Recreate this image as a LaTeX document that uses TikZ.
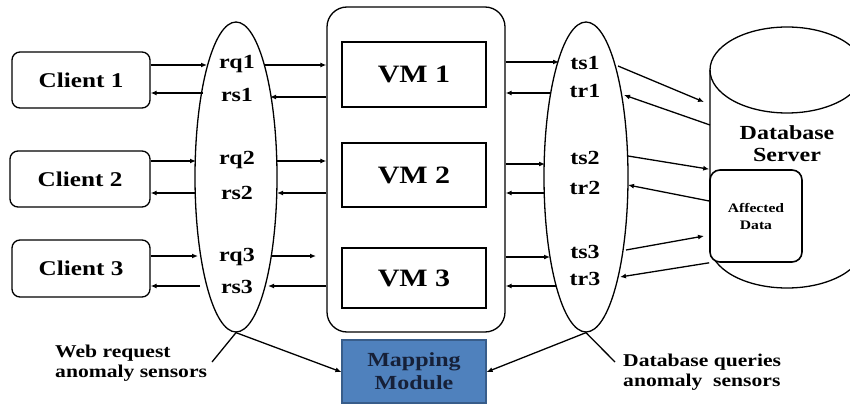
\documentclass[tikz,border=0pt]{standalone}
\usepackage{fontspec}
\setmainfont{Liberation Serif}[FakeStretch=1.2]
\usetikzlibrary{shapes.geometric,arrows.meta}
\definecolor{mapfill}{RGB}{79,129,189}
\definecolor{mapdraw}{RGB}{56,93,138}
\definecolor{maptext}{RGB}{22,32,56}
\tikzset{
  client/.style={draw, rounded corners=8pt, line width=1.3pt, minimum width=138pt, minimum height=56pt, inner sep=0pt, font=\fontsize{21}{24}\selectfont\bfseries},
  vmbox/.style={draw, line width=1.6pt, minimum width=144pt, inner sep=0pt, font=\fontsize{25}{28}\selectfont\bfseries},
  sensor/.style={draw, ellipse, line width=1.3pt, minimum width=82pt, minimum height=310pt, inner sep=0pt},
  lbl/.style={font=\fontsize{20}{22}\selectfont\bfseries, inner sep=0pt},
  note/.style={font=\fontsize{18}{20}\selectfont\bfseries, inner sep=0pt, align=left, anchor=west},
  arr/.style={-{Latex[length=6pt,width=5pt]}, line width=1.3pt},
  ln/.style={line width=1.3pt},
}
\begin{document}
\begin{tikzpicture}[x=1pt,y=-1pt]
\useasboundingbox (0,0) rectangle (850,406);
\clip (0,0) rectangle (850,406);

% clients
\node[client] (c1) at (81,80) {Client 1};
\node[client, minimum width=140pt] (c2) at (80,179) {Client 2};
\node[client, minimum height=57pt] (c3) at (81,268.5) {Client 3};

% sensors
\node[sensor] (lsens) at (236,177) {};
\node[sensor, minimum width=84pt] (rsens) at (586,177) {};

\node[lbl] (rq1) at (237,64) {rq1};
\node[lbl] (rs1) at (237,95) {rs1};
\node[lbl] (rq2) at (237,160) {rq2};
\node[lbl] (rs2) at (237,193) {rs2};
\node[lbl] (rq3) at (237,257) {rq3};
\node[lbl] (rs3) at (237,287) {rs3};

\node[lbl] (ts1) at (585,63) {ts1};
\node[lbl] (tr1) at (585,91) {tr1};
\node[lbl] (ts2) at (585,158) {ts2};
\node[lbl] (tr2) at (585,188) {tr2};
\node[lbl] (ts3) at (585,252) {ts3};
\node[lbl] (tr3) at (585,279) {tr3};

% host
\node[draw, line width=1.3pt, rounded corners=20pt, minimum width=178pt, minimum height=325pt, inner sep=0pt] (host) at (416,169.5) {};
\node[vmbox, minimum height=65pt] (vm1) at (414,74.5) {VM 1};
\node[vmbox, minimum height=64pt] (vm2) at (414,175) {VM 2};
\node[vmbox, minimum height=60pt] (vm3) at (414,278) {VM 3};

% mapping
\node[draw=mapdraw, fill=mapfill, line width=1.2pt, minimum width=144pt, minimum height=63pt, inner sep=0pt, align=center, text=maptext, font=\fontsize{20}{23}\selectfont\bfseries] (map) at (414,371.5) {Mapping\\Module};

% database cylinder
\draw[ln] (787,70) ellipse [x radius=77pt, y radius=43pt];
\draw[ln] (710,70) -- (710,245) arc[start angle=180, end angle=360, x radius=77pt, y radius=43pt] -- (864,70);
\node[align=center, inner sep=0pt, font=\fontsize{20}{22}\selectfont\bfseries] (db) at (787,144) {Database\\Server};
\node[draw, fill=white, line width=1.6pt, rounded corners=10pt, minimum width=92pt, minimum height=92pt, inner sep=0pt, align=center, font=\fontsize{13}{17}\selectfont\bfseries] (aff) at (756,216) {Affected\\Data};
\coordinate (dbin) at (704,102);
\coordinate (dbout) at (710,125);

% left arrows
\draw[arr] (c1.east |- 0,65) -- (207,65);
\draw[arr] (203,93) -- (c1.east |- 0,93);
\draw[arr] (265,65) -- (host.west |- 0,65);
\draw[arr] (host.west |- 0,97) -- (270,97);
\draw[arr] (c2.east |- 0,161) -- (196,161);
\draw[arr] (196,193) -- (c2.east |- 0,193);
\draw[arr] (277,161) -- (host.west |- 0,161);
\draw[arr] (host.west |- 0,193) -- (277,193);
\draw[arr] (c3.east |- 0,256) -- (198,256);
\draw[arr] (200,286) -- (c3.east |- 0,286);
\draw[arr] (272,256) -- (316,256);
\draw[arr] (host.west |- 0,286) -- (268,286);

% right arrows
\draw[arr] (host.east |- 0,62) -- (559,62);
\draw[arr] (551,93) -- (host.east |- 0,93);
\draw[arr] (host.east |- 0,164) -- (545,164);
\draw[arr] (545,193) -- (host.east |- 0,193);
\draw[arr] (host.east |- 0,257) -- (550,257);
\draw[arr] (556,286) -- (host.east |- 0,286);

% database arrows
\draw[arr] (618,66) -- (dbin);
\draw[arr] (dbout) -- (624,95);
\draw[arr] (628,156) -- (aff.north west);
\draw[arr] (aff.west |- 0,201) -- (628,185);
\draw[arr] (626,250) -- (704,236);
\draw[arr] (aff.south west) -- (620,277);

% bottom
\draw[ln] (lsens.south) -- (212,362);
\draw[arr] (lsens.south) -- (map.west |- 0,372);
\draw[ln] (rsens.south) -- (615,362);
\draw[arr] (rsens.south) -- (map.east |- 0,372);

\node[note] (wr) at (55,363) {Web request\\anomaly sensors};
\node[note] (dq) at (623,372) {Database queries\\anomaly~~sensors};
\end{tikzpicture}
\end{document}
